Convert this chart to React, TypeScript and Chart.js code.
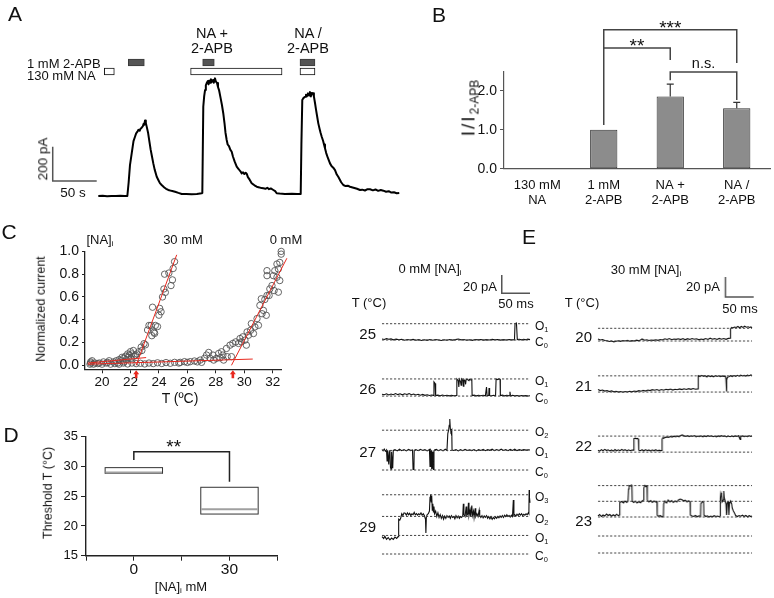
import React, { useEffect, useRef } from "react";
import { Chart, registerables } from "chart.js";

Chart.register(...registerables);
const FONT = "'Liberation Sans', Arial, Helvetica, sans-serif";
Chart.defaults.font.family = FONT;
Chart.defaults.color = "#111";

type Pt = [number, number];

// ================= Panel A : whole-cell current (s, pA) =================
const aTrace: Pt[] = [
  [0, 0], [5, 1], [10, -1], [15, 0.5], [20, -0.5], [25, 1], [30, 0], [33, 0],
  [34.5, 80], [36, 180], [38, 250], [40, 320], [41.7, 345], [43, 365], [44.5, 375], [45.5, 385], [47, 380], [48, 392],
  [49.3, 398], [50.5, 405], [51.5, 420], [52.3, 415], [53.1, 440], [54, 425], [55, 404], [56.5, 370], [58, 320],
  [59.5, 270], [61, 230], [62.5, 190], [64, 155], [66.4, 112], [68.5, 90], [70, 75], [72, 64], [75, 50], [77, 42],
  [79.5, 35], [83, 30], [87.2, 25], [91, 18], [94.8, 12], [100, 11], [106, 10], [112, 12], [117.5, 16], [118.2, 18],
  [119.3, 520], [120.3, 580], [121.3, 617], [122.2, 645], [123.2, 658], [124.5, 670], [125.3, 650], [126.2, 672],
  [127, 660], [128, 680], [129, 665], [130.3, 676], [131.2, 660], [132.6, 685], [133.5, 668], [134.9, 658], [136, 635],
  [137.2, 617], [139, 570], [140.5, 530], [142, 482], [143.5, 420], [144.5, 370], [145.9, 326], [147, 300], [148.5, 290],
  [150, 270], [151.6, 258], [153, 230], [155, 200], [157.3, 171], [159, 160], [160.5, 150], [162, 140], [163, 132],
  [164.5, 138], [166, 128], [167.5, 135], [168.6, 130], [170, 110], [172, 95], [174.3, 74], [176, 68], [178, 60],
  [180, 54], [183, 50], [185.5, 46], [187.5, 45], [190, 42], [192, 48], [194, 40], [196, 44], [198.9, 35], [201, 28],
  [202.7, 16], [206, 14], [212, 12], [220, 13], [226, 11], [230, 12],
  [230.8, 300], [231.8, 559], [233, 570], [234.9, 578], [236, 590], [237, 580], [238.3, 598], [239.5, 585], [240.5, 605],
  [241.5, 580], [242.5, 600], [244, 598], [245, 580], [246.3, 540], [247.5, 500], [248.8, 460], [250, 423], [251.5, 390],
  [252.5, 370], [253.9, 345], [255.5, 320], [256.5, 300], [257.6, 278], [259, 250], [261, 220], [263.3, 190], [265, 175],
  [267, 165], [269, 151], [271, 125], [272.7, 112], [274.5, 95], [276, 80], [278.4, 64], [281, 58], [283.5, 60], [286, 54],
  [290, 48], [294, 42], [297.4, 35], [300, 37], [303, 32], [306, 40], [308.8, 39], [312, 33], [315, 38], [318, 30],
  [321, 35], [323.9, 31], [327, 25], [330, 28], [333, 20], [336, 22], [339, 16], [342, 18],
];
const aApbOn: Pt[] = [[34.1, 52.3], [118.6, 131.8], [229.2, 246.2]];
const aNaOn: Pt[] = [[6.8, 18.2], [104.9, 208.8], [229.2, 246.2]];
const aRowLabels = ["1 mM 2-APB", "130 mM NA"];
const aScaleBar = { seconds: 50, pA: 200, t: -51.8, i: 87 };

// ================= Panel B =================
const bCategories = [["130 mM", "NA"], ["1 mM", "2-APB"], ["NA +", "2-APB"], ["NA /", "2-APB"]];
const bMeans = [0.01, 1.0, 1.85, 1.55];
const bErrors = [0, 0, 0.32, 0.15];
const bTicks = [0, 0.5, 1, 1.5, 2, 2.5];
const bBrackets = [
  { from: 1, to: 3, at: 3.56, leftEnd: 3.095, rightEnd: 2.71, label: "***" },
  { from: 1, to: 2, at: 3.095, leftEnd: 1.12, rightEnd: 2.79, label: "**" },
  { from: 2, to: 3, at: 2.48, leftEnd: 2.27, rightEnd: 1.76, label: "n.s." },
];

// ================= Panel C (T °C, normalized current) =================
const cPoints30: Pt[] = [
  [19.15, 0.01], [19.2, 0.03], [19.3, 0.04], [19.5, 0.02], [19.8, 0.02], [20.1, 0.03], [20.4, 0.025], [20.5, 0.04],
  [20.8, 0.03], [21.0, 0.04], [21.1, 0.02], [21.2, 0.05], [21.3, 0.04], [21.4, 0.07], [21.5, 0.06], [21.55, 0.03],
  [21.65, 0.08], [21.7, 0.05], [21.8, 0.1], [21.85, 0.07], [21.9, 0.09], [22.0, 0.12], [22.05, 0.06], [22.1, 0.1],
  [22.2, 0.13], [22.25, 0.08], [22.35, 0.09], [22.45, 0.1], [22.6, 0.12], [22.75, 0.16], [22.8, 0.13], [22.95, 0.19],
  [23.05, 0.18], [23.2, 0.31], [23.3, 0.35], [23.45, 0.35], [23.5, 0.26], [23.55, 0.51], [23.65, 0.29], [23.7, 0.28],
  [23.75, 0.35], [23.9, 0.34], [24.0, 0.44], [24.05, 0.5], [24.15, 0.47], [24.25, 0.6], [24.35, 0.67], [24.45, 0.64],
  [24.4, 0.8], [24.7, 0.81], [24.85, 0.7], [24.95, 0.75], [25.0, 0.85], [25.1, 0.91],
];
const cPoints0: Pt[] = [
  [19.2, 0.02], [19.4, 0.01], [19.7, 0.015], [20.0, 0.01], [20.3, 0.02], [20.6, 0.01], [20.9, 0.015], [21.2, 0.01],
  [21.5, 0.02], [21.8, 0.012], [22.1, 0.02], [22.4, 0.015], [22.7, 0.018], [23.0, 0.012], [23.3, 0.02], [23.6, 0.015],
  [23.9, 0.022], [24.2, 0.016], [24.5, 0.024], [24.8, 0.018], [25.1, 0.026], [25.4, 0.02], [25.5, 0.026], [25.8, 0.032],
  [26.0, 0.025], [26.2, 0.032], [26.5, 0.038], [26.7, 0.03], [26.9, 0.046], [27.0, 0.026], [27.2, 0.061], [27.35, 0.09],
  [27.5, 0.113], [27.6, 0.061], [27.8, 0.09], [27.85, 0.046], [28.05, 0.061], [28.2, 0.104], [28.3, 0.066], [28.4, 0.119],
  [28.5, 0.09], [28.55, 0.046], [28.75, 0.148], [28.8, 0.076], [29.0, 0.177], [29.1, 0.076], [29.2, 0.192], [29.4, 0.206],
  [29.6, 0.192], [29.7, 0.235], [29.8, 0.206], [29.9, 0.25], [30.05, 0.221], [30.15, 0.177], [30.2, 0.293], [30.3, 0.264],
  [30.45, 0.308], [30.5, 0.366], [30.65, 0.279], [30.75, 0.337], [30.9, 0.41], [31.0, 0.351], [31.1, 0.526], [31.2, 0.584],
  [31.25, 0.453], [31.35, 0.482], [31.45, 0.578], [31.55, 0.439], [31.6, 0.613], [31.6, 0.787], [31.6, 0.831], [31.75, 0.613],
  [31.8, 0.671], [31.95, 0.7], [32.05, 0.787], [32.1, 0.656], [32.15, 0.831], [32.3, 0.889], [32.3, 0.773], [32.4, 0.846],
  [32.4, 0.642], [32.5, 0.903], [32.5, 0.744], [32.6, 0.976], [32.6, 1.0],
];
const cFit30Base: Pt[] = [[19.0, 0.02], [23.1, 0.068]];
const cFit30Rise: Pt[] = [[22.4, 0.0], [25.25, 0.97]];
const cFit0Base: Pt[] = [[19.0, 0.01], [30.6, 0.055]];
const cFit0Rise: Pt[] = [[29.1, 0.0], [33.0, 0.94]];
const cThresholds = [22.4, 29.2];
const cTicksX = [20, 22, 24, 26, 28, 30, 32];
const cTicksY = [0, 0.2, 0.4, 0.6, 0.8, 1.0];

// ================= Panel D =================
const dGroups = [0, 30];
const dQ1 = [28.85, 22.0];
const dMedian = [29.0, 22.8];
const dQ3 = [29.8, 26.5];
const dTicksX = [-15, 0, 15, 30, 45];
const dTicksY = [15, 20, 25, 30, 35];
const dSig = { at: 32.48, leftEnd: 31.08, rightEnd: 27.44, labelAt: 12.5, label: "**" };

// ================= Panel E : single-channel traces (ms, pA) =================
const eLeftTemps = [25, 26, 27, 29];
const eRightTemps = [20, 21, 22, 23];
const eLeftLevels = [[0, 17.8], [0, 18.9], [0, 21.5, 43.7], [0, 20.3, 41.1, 64.8]];
const eRightLevels = [[0, 12.7], [0, 16.3], [0, 16.3], [0, 17, 36, 51.7, 67.4]];
const e25: Pt[] = [[0,1],[4,0.5],[8,1.5],[12,0.8],[16,1.2],[20,0.2],[25,0.9],[30,0.3],[35,0.8],[40,-0.2],[45,0.6],[50,0],[55,0.7],[60,-0.3],[65,0.4],[70,-0.5],[75,0.3],[80,-0.4],[85,0.5],[90,-0.2],[95,0.6],[100,0],[105,-0.6],[110,0.2],[115,-0.3],[120,0.5],[125,-0.1],[130,0.4],[135,1],[140,0.2],[145,0.6],[150,-0.2],[155,0.3],[160,-0.4],[165,0.5],[170,0.1],[175,0.6],[180,-0.1],[185,0.4],[190,0],[195,0.7],[200,0.2],[205,0.5],[210,-0.1],[215,0.4],[220,0],[225,0.5],[230,0.1],[234.5,0.3],[235.5,18],[238,18.5],[239.5,0.5],[243,0.8],[247,0.2],[251,0.7],[255,0.3],[258,0.9],[262,0.4]];
const e26: Pt[] = [[0,2],[4,1.5],[8,2.5],[12,1.2],[16,2.2],[20,1.5],[24,2.8],[28,1.6],[32,2.5],[36,1.4],[40,2.6],[44,1.8],[48,2.7],[52,1.5],[56,2.3],[60,1.2],[64,2],[68,1],[72,1.8],[76,0.8],[80,1.5],[84,0.6],[88,1.2],[91,0.8],[92,15.6],[94,14],[95,0.5],[99,1],[103,0.3],[107,1.1],[111,0.4],[115,0.9],[119,0.2],[123,0.8],[127,0.3],[131,0.6],[132.5,18.9],[135,17],[136,10],[137,18.5],[139,16],[140,12],[141,18.9],[143,17.5],[144,11],[145,18],[147,16.8],[148,13],[149,18.5],[152,18],[154,17],[155,18.5],[157,17.8],[159,18.2],[159.5,0.5],[163,1],[167,0.2],[171,0.8],[175,0.3],[179,0.9],[183,0.2],[185,10],[186,0.5],[189,0.8],[189.5,9],[190.5,0.6],[194,0.3],[198,0.9],[201,0.4],[202,18.9],[205,18.2],[207,18.9],[209,18.5],[209.5,0.5],[213,1],[217,0.2],[221,0.8],[225,0.3],[226.5,4.7],[227.5,0.4],[231,0.9],[235,0.2],[239,0.7],[243,0],[247,0.6],[251,0.2],[255,0.5],[259,0.1],[262,0.4]];
const e27: Pt[] = [[0,22.5],[2,21],[4,23],[6,20.5],[8,22],[9,10],[10,21],[12,6],[13,20],[14,22],[15,3],[16,1],[17,20],[19,2],[20,21.5],[23,22.5],[27,21],[31,22.8],[35,21.2],[39,22.4],[43,21],[47,22.6],[51,21.3],[54,22],[55,0.5],[56.5,1],[57,21.5],[60,22.5],[64,21.2],[68,22.7],[72,21.4],[76,22.3],[80,21],[84,22.5],[85,4],[86,22],[87,21],[88,1],[89,20],[90,2],[91,0.5],[92,21],[93,22],[96,22.6],[100,21.2],[104,22.4],[108,21],[112,22.8],[115,21.5],[116.5,40],[118,44],[119,49],[120,56],[121,45],[122,42],[123.5,44],[124,22],[127,21.5],[131,22.5],[135,21],[139,22.3],[143,21.2],[147,22.6],[151,21.4],[155,22.1],[159,21.3],[163,22.5],[167,21],[171,22.4],[175,21.5],[179,22.7],[183,21.2],[187,22.4],[191,21.6],[195,22.8],[199,21.3],[203,22.5],[207,21.4],[211,22.9],[215,21.5],[219,22.3],[223,21.2],[227,22.6],[231,21.5],[235,22.8],[239,21.3],[243,22.5],[247,21.6],[251,22.4],[255,21.8],[259,22.3],[262,22.0]];
const e29: Pt[] = [[0,19],[3,17],[5,19.5],[8,16],[11,18],[14,15.5],[17,17.5],[20,16],[23,18.5],[26,17],[28.5,19],[29,30],[30,38],[31.5,37],[33,39],[35,44],[37,42],[39,45],[41,44.5],[43,42.5],[45,45],[47,43],[49,44.5],[51,42],[53,44],[55,43],[57,45.5],[59,42.8],[61,44.2],[63,42.5],[65,44],[67,43],[69,45],[71,42.5],[73,44],[75,42],[77,38],[77.7,23],[78.5,40],[80,43],[82,44],[84,47],[85,62],[86,65],[87,57],[88,64],[89,48],[90,55],[91,46],[92,52],[93,44],[95,47],[97,41],[99,45],[101,40],[103,43],[105,39],[107,42],[109,38],[111,41.5],[113,39],[115,42],[117,40],[119,41.5],[121,39],[123,42],[125,40],[127,41],[129,38.5],[131,42],[133,39.5],[135,41.5],[137,39],[139,41],[141,40],[143,42],[144,55],[145,43],[147,41],[149,52],[150,42],[152,44],[153,56],[154,42],[156,48],[157,41],[159,53],[160,42],[162,47],[163,40],[165,50],[166,41],[168,44],[170,41],[172,48],[173,42],[175,40],[177,42],[179,39.5],[181,41.5],[183,40],[185,42],[187,39],[189,41],[191,38.5],[193,40.5],[195,38],[197,40],[199,38.5],[201,40.5],[203,39],[205,41],[207,39.5],[209,41.5],[211,40],[213,42],[215,40],[217,42.5],[219,41],[221,43],[223,41],[225,42],[227,40.5],[229,42.5],[231,41],[232.5,59],[233.5,42],[235,43],[237,41.5],[239,43.5],[241,42],[243,44],[245,42.5],[247,44],[249,42],[251,43.5],[253,42.5],[255,44],[257,43],[259,45],[260,44],[260.5,70],[261,62],[262,56]];
const e20: Pt[] = [[0,2],[4,1],[8,1.5],[12,0.5],[16,0.2],[20,-0.5],[24,0],[28,-0.8],[32,-0.2],[36,0.3],[40,-0.3],[44,0.5],[48,0],[52,0.6],[56,-0.2],[60,0.4],[64,0],[68,0.8],[72,0.2],[75,1],[78,2],[82,0.8],[86,1.2],[90,0.5],[94,1],[98,0.6],[102,1.3],[106,0.7],[110,1.5],[114,1],[118,2.2],[122,1.5],[126,2.5],[130,1.3],[134,2],[138,1.6],[142,2.2],[146,1.4],[150,2.5],[154,1.2],[158,2.3],[162,1.5],[166,2.5],[170,1.7],[174,2.2],[178,1.2],[182,2],[186,1.4],[190,2.5],[194,1.6],[198,2.8],[202,1.8],[206,2.4],[210,1.5],[214,2.6],[218,1.8],[222,2.5],[226,1.7],[230,2.6],[233.5,2.8],[234,12],[236,13.5],[238,13],[241,14],[244,13.5],[247,14.5],[250,13.2],[253,14.5],[256,13.6],[259,14.8],[262,13.8],[265,14.2],[268,13.5],[270,14],[272,13.2]];
const e21: Pt[] = [[0,2.5],[4,1.5],[8,2],[12,1],[16,1.5],[20,0.5],[24,1.2],[28,0.2],[32,0.8],[36,0],[40,0.6],[44,-0.2],[48,0.5],[52,0],[56,0.8],[60,0.2],[64,1],[68,0.5],[72,1.4],[76,0.8],[80,1.8],[84,1],[88,2],[92,1.5],[96,2.4],[100,1.8],[104,2.6],[108,1.6],[112,2.5],[116,1.8],[120,2.8],[124,2.2],[128,3],[132,2],[136,2.8],[140,2.3],[144,3.2],[148,2.5],[152,3.3],[156,2.6],[160,3.4],[164,2.7],[168,3.5],[172,2.8],[176.5,3.2],[177,16.5],[180,15.5],[183,16.8],[186,15.8],[189,16.5],[192,15.2],[195,16.6],[198,15.6],[201,16.2],[204,15.3],[207,16.6],[210,15.7],[213,16.4],[216,15.5],[219,16.2],[222,15.6],[225,16],[226,13],[226.7,0.6],[227.5,12],[228.5,15],[231,15.5],[234,16.5],[237,15.6],[240,16.6],[243,15.8],[246,16.8],[249,16],[252,17],[255,16.2],[258,16.9],[261,16.1],[264,17],[267,16.5],[270,17.2],[272,16.6]];
const e22: Pt[] = [[0,2],[3,1],[6,2.5],[9,1.5],[12,2.8],[15,1.6],[18,2.4],[21,1.2],[24,2.2],[27,1],[30,2.6],[33,1.4],[36,2.3],[39,1.5],[42,2.7],[45,1.7],[48,2.5],[51,1.3],[54,2.4],[57,1.5],[60,2.2],[62.5,2],[63,12],[64,13.8],[66,14.2],[68,13.5],[70,14],[71.5,13],[72,2],[75,1.5],[78,2.4],[81,1.2],[84,2.6],[87,1.5],[90,2.2],[93,1],[96,2.3],[99,1.4],[102,2.5],[105,1.2],[108,2],[111,1.3],[112.8,1.8],[113.2,13],[114.5,14.5],[116,14],[119,15],[122,15.5],[125,15],[128,16],[131,15.3],[134,16.2],[137,15.5],[140,16.4],[143,15.6],[146,16.8],[149,17.5],[152,16.5],[155,16],[158,16.8],[161,15.8],[164,16.6],[167,15.9],[170,16.8],[173,15.6],[176,16.4],[179,15.8],[182,16.6],[185,15.6],[188,16.5],[191,15.8],[194,16.8],[197,16],[200,16.6],[203,15.7],[206,16.4],[209,15.6],[212,16.5],[215,15.8],[218,16.7],[221,15.9],[224,16.5],[227,15.5],[230,16.3],[233,15.6],[236,16.4],[239,15.8],[242,16.5],[245,15.9],[248,16.7],[251,13],[252,16],[255,16.5],[258,15.7],[261,16.4],[264,15.8],[267,16.6],[270,16],[272,16.4]];
const e23: Pt[] = [[0,37],[3,38.5],[6,36.5],[9,38],[12,37],[15,39],[18,37.5],[21,38.5],[24,36.8],[27,38.2],[30,37],[33,38.8],[36,37.2],[37.5,38],[38,48],[39,50.5],[42,51.5],[45,50],[48,52],[51,50.5],[53,52],[54,64],[55,67.5],[57,67],[59,68],[60,66],[60.5,52],[63,50.5],[66,51.8],[69,50],[72,51.5],[75,50.2],[78,52],[80.5,53],[81,65],[83,67.5],[85,66.5],[86.5,67],[87,53],[90,51],[93,52.5],[96,50.5],[99,52],[102,50.8],[104,51.5],[104.5,38],[107,36.5],[110,37.5],[113,36],[115.5,37],[116,49],[118,52],[121,50],[124,53],[127,51],[130,52.5],[133,50.5],[136,52],[139,51],[142,53],[145,54],[148,53.5],[151,52],[154,52.8],[157,51],[160,52.2],[162.5,51],[163,38],[166,37],[169,36.5],[172,37.5],[175,36.2],[178,37.2],[181,36.5],[181.5,49],[184,51.5],[186.5,50.5],[187,38],[190,36.5],[193,37.2],[196,36],[199,37],[202,36.2],[205,37.3],[208,36.5],[211,37],[214,36.3],[215.5,37],[216,55],[217,60],[218,58],[219,51],[221,53],[222,62],[223,55],[225,51],[226,49],[227,38],[228,50],[230,51],[231,38],[232,49],[234,52],[236,49],[237,45],[239,42],[241,40],[243,37.5],[246,36.5],[249,37.5],[252,36.8],[255,37.8],[258,36.5],[261,37.5],[264,36.2],[267,37.3],[270,36.4],[272,37]];
const eLeftData = [e25, e26, e27, e29];
const eRightData = [e20, e21, e22, e23];
const eScaleBar = { ms: 50, pA: 20 };

// ================= layout (pixels) =================
const A_MAP = { zeroX: 98.3, zeroY: 196, pxPerS: 0.88, pxPerPA: 0.1717 };
const E_LEFT = { startPx: 381.7, pxPerMs: 0.566, k: 0.915, tEnd: 262, c0Px: [340, 396, 470, 554.3], bar: { t: 212, i: 51 } };
const E_RIGHT = { startPx: 597.7, pxPerMs: 0.566, k: 1.0, tEnd: 272, c0Px: [341, 392.3, 452, 552.7], bar: { t: 225, i: 44 } };

type Box = { left: number; top: number; width: number; height: number };

const baseOpts = {
  responsive: false,
  animation: false,
  events: [] as any[],
  plugins: { legend: { display: false }, tooltip: { enabled: false } },
};
const xy = (p: Pt[]) => p.map(([x, y]) => ({ x, y }));

function ChartView({ box, make }: { box: Box; make: () => any }) {
  const ref = useRef<HTMLCanvasElement | null>(null);
  useEffect(() => {
    if (!ref.current) return;
    const chart = new Chart(ref.current, make());
    return () => chart.destroy();
  }, []);
  return (
    <canvas
      ref={ref}
      width={box.width}
      height={box.height}
      style={{ position: "absolute", left: box.left, top: box.top, width: box.width, height: box.height }}
    />
  );
}

function Txt({ x, y, a = "c", size = 13, rot = false, children }: any) {
  const tx = a === "c" ? "-50%" : a === "r" ? "-100%" : "0";
  const style: any = {
    position: "absolute", left: x, top: y,
    transform: `translate(${tx}, -50%)${rot ? " rotate(-90deg)" : ""}`,
    fontSize: size, lineHeight: 1, whiteSpace: "nowrap", fontFamily: FONT, color: "#111",
  };
  if (!rot) style.willChange = "transform";
  return <div style={style}>{children}</div>;
}
const Sub = ({ children, size = "0.62em" }: any) => (
  <sub style={{ fontSize: size, verticalAlign: "-0.3em", lineHeight: 0, color: "#111" }}>{children}</sub>
);

// ---------- configs ----------
const A_TRACE_BOX: Box = { left: 20, top: 25, width: 380, height: 180 };
const A_APP_BOX: Box = { left: 20, top: 58, width: 380, height: 18 };
const aXRange = (b: Box) => ({ min: (b.left - A_MAP.zeroX) / A_MAP.pxPerS, max: (b.left + b.width - A_MAP.zeroX) / A_MAP.pxPerS });

function aTraceConfig() {
  const b = A_TRACE_BOX;
  return {
    type: "line",
    data: {
      datasets: [
        { data: xy(aTrace), borderColor: "#000", borderWidth: 2, pointRadius: 0, borderJoinStyle: "round" },
        {
          data: xy([[aScaleBar.t, aScaleBar.i + aScaleBar.pA], [aScaleBar.t, aScaleBar.i], [aScaleBar.t + aScaleBar.seconds, aScaleBar.i]]),
          borderColor: "#555", borderWidth: 1.5, pointRadius: 0,
        },
      ],
    },
    options: {
      ...baseOpts,
      layout: { padding: 0 },
      scales: {
        x: { type: "linear", display: false, ...aXRange(b) },
        y: { type: "linear", display: false, min: (A_MAP.zeroY - (b.top + b.height)) / A_MAP.pxPerPA, max: (A_MAP.zeroY - b.top) / A_MAP.pxPerPA },
      },
    },
  };
}

function aAppConfig() {
  return {
    type: "bar",
    data: {
      labels: aRowLabels,
      datasets: [0, 1, 2].map((k) => ({
        data: [aApbOn[k], aNaOn[k]],
        backgroundColor: ["#555555", "#ffffff"],
        borderColor: ["#3a3a3a", "#111111"],
        borderWidth: 1,
        borderSkipped: false,
        grouped: false,
        barThickness: 7,
      })),
    },
    options: {
      ...baseOpts,
      indexAxis: "y",
      layout: { padding: 0 },
      scales: { x: { type: "linear", display: false, ...aXRange(A_APP_BOX) }, y: { display: false } },
    },
  };
}

const bPlugin = {
  id: "bDecor",
  afterDraw(chart: any) {
    const { ctx } = chart;
    const x = chart.scales.x, y = chart.scales.y;
    ctx.save();
    ctx.strokeStyle = "#333";
    ctx.lineWidth = 1.2;
    bMeans.forEach((m, i) => {
      const e = bErrors[i];
      if (!e) return;
      const cx = x.getPixelForValue(i), y0 = y.getPixelForValue(m), y1 = y.getPixelForValue(m + e);
      ctx.beginPath();
      ctx.moveTo(cx, y0); ctx.lineTo(cx, y1);
      ctx.moveTo(cx - 3.5, y1); ctx.lineTo(cx + 3.5, y1);
      ctx.stroke();
    });
    ctx.strokeStyle = "#444";
    ctx.lineWidth = 1.5;
    bBrackets.forEach((b) => {
      const x1 = x.getPixelForValue(b.from), x2 = x.getPixelForValue(b.to), yy = y.getPixelForValue(b.at);
      ctx.beginPath();
      ctx.moveTo(x1, y.getPixelForValue(b.leftEnd));
      ctx.lineTo(x1, yy); ctx.lineTo(x2, yy);
      ctx.lineTo(x2, y.getPixelForValue(b.rightEnd));
      ctx.stroke();
      const star = b.label.startsWith("*");
      ctx.fillStyle = "#111";
      ctx.textAlign = "center";
      ctx.textBaseline = "alphabetic";
      ctx.font = `${star ? 19 : 14.5}px ${FONT}`;
      ctx.fillText(b.label, (x1 + x2) / 2, yy + (star ? 4.5 : -3.5));
    });
    ctx.restore();
  },
};

const B_BOX: Box = { left: 440, top: 10, width: 334, height: 200 };
function bConfig() {
  return {
    type: "bar",
    data: {
      labels: bCategories,
      datasets: [{
        data: bMeans, backgroundColor: "#8c8c8c", borderColor: "#333", borderWidth: 1,
        borderSkipped: false, barPercentage: 0.41, categoryPercentage: 1,
      }],
    },
    options: {
      ...baseOpts,
      layout: { padding: { top: 61.2, right: 4, left: 0, bottom: 0 } },
      scales: {
        x: {
          grid: { display: false },
          border: { color: "#555", width: 1.2 },
          ticks: { color: "#111", font: { size: 13, lineHeight: 1.15 }, padding: 1, maxRotation: 0, autoSkip: false },
          afterFit: (s: any) => { s.height = 41.3; },
        },
        y: {
          min: 0, max: 2.5,
          afterBuildTicks: (s: any) => { s.ticks = bTicks.map((v) => ({ value: v })); },
          ticks: { color: "#111", font: { size: 14 }, padding: 3, callback: (v: number) => v.toFixed(1) },
          grid: { drawOnChartArea: false, tickLength: 4, color: "#555" },
          border: { color: "#555", width: 1.2 },
          afterFit: (s: any) => { s.width = 64; },
        },
      },
    },
    plugins: [bPlugin],
  };
}

const cPlugin = {
  id: "cArrows",
  afterDraw(chart: any) {
    const { ctx, chartArea } = chart;
    const x = chart.scales.x;
    ctx.save();
    ctx.fillStyle = "#e8281e";
    cThresholds.forEach((t) => {
      const px = x.getPixelForValue(t), y0 = chartArea.bottom + 1;
      ctx.beginPath();
      ctx.moveTo(px, y0); ctx.lineTo(px + 3, y0 + 4); ctx.lineTo(px + 1.3, y0 + 4);
      ctx.lineTo(px + 1.3, y0 + 8); ctx.lineTo(px - 1.3, y0 + 8); ctx.lineTo(px - 1.3, y0 + 4);
      ctx.lineTo(px - 3, y0 + 4); ctx.closePath(); ctx.fill();
    });
    ctx.restore();
  },
};

const C_BOX: Box = { left: 20, top: 240, width: 290, height: 150 };
function cConfig() {
  const pts = (d: Pt[]) => ({
    type: "scatter", data: xy(d), pointRadius: 3.2, pointBorderWidth: 0.9, pointBorderColor: "#555",
    pointBackgroundColor: "rgba(0,0,0,0)", clip: false, order: 2,
  });
  const fit = (d: Pt[]) => ({
    type: "line", data: xy(d), borderColor: "#e8281e", borderWidth: 1, pointRadius: 0, showLine: true, clip: false, order: 1,
  });
  const axis = { color: "#222", width: 1.3 };
  return {
    type: "scatter",
    data: { datasets: [pts(cPoints30), pts(cPoints0), fit(cFit30Base), fit(cFit30Rise), fit(cFit0Base), fit(cFit0Rise)] },
    options: {
      ...baseOpts,
      layout: { padding: { top: 10.7, right: 28.8, left: 0, bottom: 0 } },
      scales: {
        x: {
          type: "linear", min: 18.8, max: 32.6,
          afterBuildTicks: (s: any) => { s.ticks = cTicksX.map((v) => ({ value: v })); },
          ticks: { color: "#111", font: { size: 13.5 }, padding: 1 },
          grid: { drawOnChartArea: false, tickLength: 4, color: "#222" },
          border: axis,
          afterFit: (s: any) => { s.height = 20.7; },
        },
        y: {
          type: "linear", min: -0.035, max: 1.0,
          afterBuildTicks: (s: any) => { s.ticks = cTicksY.map((v) => ({ value: v })); },
          ticks: { color: "#111", font: { size: 14 }, padding: 3, callback: (v: number) => v.toFixed(1) },
          grid: { drawOnChartArea: false, tickLength: 3, color: "#222" },
          border: axis,
          afterFit: (s: any) => { s.width = 65; },
        },
      },
    },
    plugins: [cPlugin],
  };
}

const D_HALF = 9;
const dPlugin = {
  id: "dBoxes",
  afterDraw(chart: any) {
    const { ctx } = chart;
    const x = chart.scales.x, y = chart.scales.y;
    ctx.save();
    dGroups.forEach((g, i) => {
      const x0 = x.getPixelForValue(g - D_HALF), x1 = x.getPixelForValue(g + D_HALF);
      const yq3 = y.getPixelForValue(dQ3[i]), yq1 = y.getPixelForValue(dQ1[i]), ym = y.getPixelForValue(dMedian[i]);
      ctx.fillStyle = "#fff";
      ctx.fillRect(x0, yq3, x1 - x0, yq1 - yq3);
      ctx.strokeStyle = "#333";
      ctx.lineWidth = 1;
      ctx.strokeRect(x0, yq3, x1 - x0, yq1 - yq3);
      ctx.strokeStyle = "#a0a0a0";
      ctx.lineWidth = 2;
      ctx.beginPath(); ctx.moveTo(x0 + 0.5, ym); ctx.lineTo(x1 - 0.5, ym); ctx.stroke();
    });
    const x1 = x.getPixelForValue(dGroups[0]), x2 = x.getPixelForValue(dGroups[1]), yy = y.getPixelForValue(dSig.at);
    ctx.strokeStyle = "#222";
    ctx.lineWidth = 1.5;
    ctx.beginPath();
    ctx.moveTo(x1, y.getPixelForValue(dSig.leftEnd)); ctx.lineTo(x1, yy); ctx.lineTo(x2, yy);
    ctx.lineTo(x2, y.getPixelForValue(dSig.rightEnd));
    ctx.stroke();
    ctx.fillStyle = "#111";
    ctx.textAlign = "center";
    ctx.textBaseline = "alphabetic";
    ctx.font = `19px ${FONT}`;
    ctx.fillText(dSig.label, x.getPixelForValue(dSig.labelAt), yy + 1.5);
    ctx.restore();
  },
};

const D_BOX: Box = { left: 20, top: 425, width: 270, height: 150 };
function dConfig() {
  const axis = { color: "#222", width: 1.4 };
  return {
    type: "scatter",
    data: { datasets: [{ data: xy(dGroups.map((g, i) => [g, dMedian[i]] as Pt)), pointRadius: 0 }] },
    options: {
      ...baseOpts,
      layout: { padding: { top: 11.7, right: 12.7, left: 0, bottom: 0 } },
      scales: {
        x: {
          type: "linear", min: -15, max: 45,
          afterBuildTicks: (s: any) => { s.ticks = dTicksX.map((v) => ({ value: v })); },
          ticks: { color: "#111", font: { size: 15.5 }, padding: 0, callback: (v: number) => (dGroups.includes(v) ? String(v) : "") },
          grid: { drawOnChartArea: false, tickLength: 5, color: "#222" },
          border: axis,
          afterFit: (s: any) => { s.height = 19.3; },
        },
        y: {
          type: "linear", min: 15, max: 35,
          afterBuildTicks: (s: any) => { s.ticks = dTicksY.map((v) => ({ value: v })); },
          ticks: { color: "#111", font: { size: 13 }, padding: 3 },
          grid: { drawOnChartArea: false, tickLength: 5, color: "#222" },
          border: axis,
          afterFit: (s: any) => { s.width = 66; },
        },
      },
    },
    plugins: [dPlugin],
  };
}

function eBox(col: any, i: number, levels: number[], data: Pt[]): Box {
  const c0 = col.c0Px[i];
  const maxV = Math.max(...levels, ...data.map((p) => p[1]));
  const top = i === 0 ? 266 : c0 - (maxV * col.k + 6);
  return { left: col.startPx - 4, top, width: col.tEnd * col.pxPerMs + 8, height: c0 + 8 - top };
}

function eConfig(col: any, i: number, levels: number[], data: Pt[], box: Box) {
  const c0 = col.c0Px[i];
  const datasets: any[] = levels.map((L) => ({
    data: xy([[0, L], [col.tEnd, L]]), borderColor: "#444", borderWidth: 1, borderDash: [2.2, 1.8], pointRadius: 0,
  }));
  datasets.push({ data: xy(data), borderColor: "#111", borderWidth: 1.1, pointRadius: 0, clip: false });
  if (i === 0) {
    const { t, i: I } = col.bar;
    datasets.push({
      data: xy([[t, I + eScaleBar.pA], [t, I], [t + eScaleBar.ms, I]]), borderColor: "#555", borderWidth: 1.5, pointRadius: 0, clip: false,
    });
  }
  return {
    type: "line",
    data: { datasets },
    options: {
      ...baseOpts,
      layout: { padding: 0 },
      scales: {
        x: { type: "linear", display: false, min: (box.left - col.startPx) / col.pxPerMs, max: (box.left + box.width - col.startPx) / col.pxPerMs },
        y: { type: "linear", display: false, min: (c0 - (box.top + box.height)) / col.k, max: (c0 - box.top) / col.k },
      },
    },
  };
}

function EColumn({ col, temps, levelsList, dataList, showLevelNames, labelRight }: any) {
  return (
    <>
      {dataList.map((data: Pt[], i: number) => {
        const box = eBox(col, i, levelsList[i], data);
        return <ChartView key={"c" + i} box={box} make={() => eConfig(col, i, levelsList[i], data, box)} />;
      })}
      {temps.map((t: number, i: number) => {
        const lv = levelsList[i];
        const mid = col.c0Px[i] - (lv[lv.length - 1] * col.k) / 2 + 1;
        return <Txt key={"t" + i} x={labelRight} y={mid} a="r" size={15}>{t}</Txt>;
      })}
      {showLevelNames &&
        levelsList.map((lv: number[], i: number) =>
          lv.map((L: number, j: number) => (
            <Txt key={`l${i}-${j}`} x={535} y={col.c0Px[i] - L * col.k + 2} a="l" size={12}>
              {j === 0 ? "C" : "O"}<Sub>{j}</Sub>
            </Txt>
          ))
        )}
    </>
  );
}

export default function App() {
  return (
    <div style={{ position: "absolute", left: 0, top: 0, width: 774, height: 598, background: "#fff", overflow: "hidden", fontFamily: FONT }}>
      {/* Panel A */}
      <ChartView box={A_TRACE_BOX} make={aTraceConfig} />
      <ChartView box={A_APP_BOX} make={aAppConfig} />
      <Txt x={14.5} y={12.5} size={21}>A</Txt>
      <Txt x={26.7} y={62.5} a="l" size={13}>{aRowLabels[0]}</Txt>
      <Txt x={26.7} y={75} a="l" size={13}>{aRowLabels[1]}</Txt>
      <Txt x={212} y={33} size={14.5}>NA +</Txt>
      <Txt x={212} y={48} size={14.5}>2-APB</Txt>
      <Txt x={308} y={33} size={14.5}>NA /</Txt>
      <Txt x={308} y={48} size={14.5}>2-APB</Txt>
      <Txt x={42.5} y={158.5} size={13.5} rot>200 pA</Txt>
      <Txt x={73} y={193} size={13.5}>50 s</Txt>

      {/* Panel B */}
      <ChartView box={B_BOX} make={bConfig} />
      <Txt x={439} y={14} size={21}>B</Txt>
      <Txt x={468} y={108} rot>
        <span style={{ fontSize: 19, letterSpacing: 2 }}>I/I</span>
        <Sub size={12}>2-APB</Sub>
      </Txt>

      {/* Panel C */}
      <ChartView box={C_BOX} make={cConfig} />
      <Txt x={8.5} y={231} size={21}>C</Txt>
      <Txt x={100} y={239} size={13}>[NA]<Sub>i</Sub></Txt>
      <Txt x={183} y={239} size={13}>30 mM</Txt>
      <Txt x={285.5} y={239} size={13}>0 mM</Txt>
      <Txt x={41} y={309} size={12.5} rot>Normalized current</Txt>
      <Txt x={180} y={398} size={14}>T (ºC)</Txt>

      {/* Panel D */}
      <ChartView box={D_BOX} make={dConfig} />
      <Txt x={10.8} y={434} size={21}>D</Txt>
      <Txt x={48} y={492.7} size={12.5} rot>Threshold T (°C)</Txt>
      <Txt x={181} y={586} size={13}>[NA]<Sub>i</Sub> mM</Txt>

      {/* Panel E */}
      <Txt x={529} y={236} size={21}>E</Txt>
      <Txt x={430} y={268} size={13}>0 mM [NA]<Sub>i</Sub></Txt>
      <Txt x={497} y={286} a="r" size={13}>20 pA</Txt>
      <Txt x={516} y={303} size={13}>50 ms</Txt>
      <Txt x={369} y={302} size={13}>T (°C)</Txt>
      <Txt x={646} y={269} size={13}>30 mM [NA]<Sub>i</Sub></Txt>
      <Txt x={720} y={286} a="r" size={13}>20 pA</Txt>
      <Txt x={740} y={308} size={13}>50 ms</Txt>
      <Txt x={582} y={302} size={13}>T (°C)</Txt>
      <EColumn col={E_LEFT} temps={eLeftTemps} levelsList={eLeftLevels} dataList={eLeftData} showLevelNames labelRight={376} />
      <EColumn col={E_RIGHT} temps={eRightTemps} levelsList={eRightLevels} dataList={eRightData} showLevelNames={false} labelRight={592} />
    </div>
  );
}
